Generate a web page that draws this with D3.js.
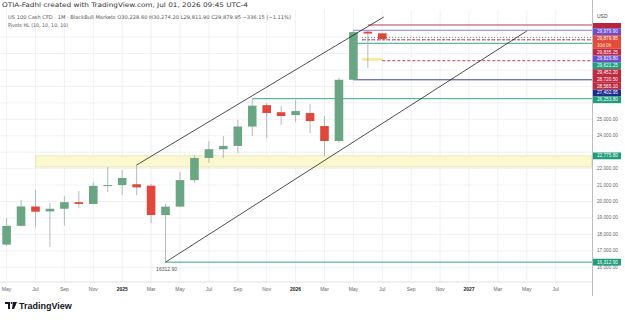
<!DOCTYPE html>
<html>
<head>
<meta charset="utf-8">
<script src="https://cdn.jsdelivr.net/npm/d3@7"></script>
<style>
  body { margin: 0; background: #fff; }
  svg { display: block; font-family: "Liberation Sans", Arial, sans-serif; }
  .legend { font-family: "DejaVu Sans", sans-serif; }
</style>
</head>
<body>
<div id="container"></div>
<script>
/* CONSTANTS AND GLOBALS */
const width = 625, height = 320
const plot = { left: 0, right: 592, top: 10, bottom: 282 }

/* DATA - monthly bars, May 2024 .. Jul 2026 */
const months = ["2024-05","2024-06","2024-07","2024-08","2024-09","2024-10","2024-11","2024-12",
  "2025-01","2025-02","2025-03","2025-04","2025-05","2025-06","2025-07","2025-08","2025-09","2025-10","2025-11","2025-12",
  "2026-01","2026-02","2026-03","2026-04","2026-05","2026-06","2026-07"]
const opens  = [17380, 18520, 19700, 19400, 19560, 19960, 19850, 20950, 21000, 21050, 20960, 19180, 19690, 21300, 22650, 23180, 23380, 24560, 25860, 25430, 25260, 25380, 24590, 23680, 27402.95, 30330, 30228.60]
const highs  = [18990, 20090, 20710, 19910, 20330, 20640, 21180, 22100, 21910, 22222, 21060, 19850, 21790, 22830, 23670, 23980, 24950, 26253.80, 25990, 25810, 26170, 25930, 25200, 27510, 30414, 30420, 30274.20]
const lows   = [17290, 18470, 18430, 17240, 18540, 19600, 19910, 20580, 20400, 20390, 18690, 16312.90, 19660, 21150, 22340, 22650, 22950, 23980, 23860, 24650, 24830, 24160, 22770, 23560, 27390, 28120, 29811.90]
const closes = [18520, 19700, 19380, 19560, 19960, 19850, 20950, 21000, 21430, 20860, 19180, 19690, 21300, 22650, 23180, 23380, 24560, 25830, 25380, 25200, 25500, 24890, 23680, 27402.95, 30300, 30216.10, 29879.95]

const tickIdx = [0, 2, 4, 6, 8, 10, 12, 14, 16, 18, 20, 22, 24, 26, 28, 30, 32, 34, 36, 38]
const tickLabels = ["May","Jul","Sep","Nov","2025","Mar","May","Jul","Sep","Nov","2026","Mar","May","Jul","Sep","Nov","2027","Mar","May","Jul"]
const priceTicks = d3.range(16000, 31000, 1000)

// horizontal levels drawn on the chart: price, start bar, colour, dash
const levelPrices = [30736.25, 30414.00, 29979.90, 29835.25, 29829.80, 29621.25, 28565.10, 27402.95, 26253.80, 16312.90]
const levelStart  = [25, 24, 24.6, 24.6, 24.6, 24, 26, 24, 17, 11]
const levelColors = ["#b8263d", "#7c6fd8", "#6b6f7a", "#c2283f", "#6b6f7a", "#1f9d7c", "#c2283f", "#1f2c8f", "#1f9d7c", "#1f9d7c"]
const levelDash   = [null, null, "1,2", "3,2", "1,2", null, "3,2", null, null, null]

// price scale labels
const axisPrices = [30736.25, 29979.90, 29879.95, 29835.25, 29829.80, 29621.25, 29452.20, 28720.50, 28565.10, 27402.95, 26253.80, 22775.80, 16312.90]
const axisColors = ["#b8263d", "#6a4bd6", "#e24c3a", "#c2283f", "#6a4bd6", "#1f9d7c", "#c2283f", "#c2283f", "#c2283f", "#1f2c8f", "#1f9d7c", "#1f9d7c", "#1f9d7c"]

// zones
const zoneTop = [22775.80, 28720.50]
const zoneBottom = [22098, 28565.10]
const zoneFrom = [2, 24.6]
const zoneTo = [40.5, 26]

// trend channel
const channel = [
  [[9, 22222], [26.1, 31220]],
  [[11, 16312.90], [36, 30370]]
]

const svg = d3.select("#container")
  .append("svg")
  .attr("width", width)
  .attr("height", height)

const x = d3.scaleLinear().domain([0, 40]).range([6.6, 6.6 + 40 * 14.45])
const y = d3.scaleLinear().domain([16000, 25000]).range([267.3, 119.3])

const bars = months.map((m, i) => ({ i, o: opens[i], h: highs[i], l: lows[i], c: closes[i] }))

// grid
svg.append("g")
  .selectAll("line")
  .data(tickIdx)
  .join("line")
  .attr("x1", d => x(d)).attr("x2", d => x(d))
  .attr("y1", plot.top).attr("y2", plot.bottom)
  .attr("stroke", "#eceef3").attr("stroke-width", 0.8)

svg.append("g")
  .selectAll("line")
  .data(priceTicks)
  .join("line")
  .attr("x1", plot.left).attr("x2", plot.right)
  .attr("y1", d => y(d)).attr("y2", d => y(d))
  .attr("stroke", "#eceef3").attr("stroke-width", 0.8)

// zones
svg.append("g")
  .selectAll("rect")
  .data(zoneTop)
  .join("rect")
  .attr("x", (d, i) => x(zoneFrom[i]))
  .attr("width", (d, i) => Math.min(x(zoneTo[i]), plot.right) - x(zoneFrom[i]))
  .attr("y", d => y(d))
  .attr("height", (d, i) => y(zoneBottom[i]) - y(d))
  .attr("fill", (d, i) => i === 0 ? "#fbf7cf" : "#f6e98f")
  .attr("stroke", (d, i) => i === 0 ? "#d7dc9a" : "none")
  .attr("stroke-width", 0.6)

// levels
svg.append("g")
  .selectAll("line")
  .data(levelPrices)
  .join("line")
  .attr("x1", (d, i) => x(levelStart[i])).attr("x2", plot.right)
  .attr("y1", d => y(d)).attr("y2", d => y(d))
  .attr("stroke", (d, i) => levelColors[i])
  .attr("stroke-width", 0.9)
  .attr("stroke-dasharray", (d, i) => levelDash[i])

// candles
const candle = svg.append("g")
  .selectAll("g")
  .data(bars)
  .join("g")

candle.append("line")
  .attr("x1", d => x(d.i)).attr("x2", d => x(d.i))
  .attr("y1", d => y(d.h)).attr("y2", d => y(d.l))
  .attr("stroke", "#a5a8af").attr("stroke-width", 0.8)

candle.append("rect")
  .attr("x", d => x(d.i) - 4.3)
  .attr("width", 8.6)
  .attr("y", d => y(Math.max(d.o, d.c)))
  .attr("height", d => Math.max(1, Math.abs(y(d.o) - y(d.c))))
  .attr("fill", d => d.c >= d.o ? "#6aa683" : "#e0483b")

// channel lines
svg.append("g")
  .selectAll("line")
  .data(channel)
  .join("line")
  .attr("x1", d => x(d[0][0])).attr("y1", d => y(d[0][1]))
  .attr("x2", d => x(d[1][0])).attr("y2", d => y(d[1][1]))
  .attr("stroke", "#222").attr("stroke-width", 0.8)

// pivot low text
svg.append("text")
  .attr("x", x(11) + 1).attr("y", y(16312.90) + 9)
  .attr("text-anchor", "middle")
  .attr("font-size", 5).attr("fill", "#555")
  .text(d3.format(".2f")(16312.90))

// time axis
svg.append("line")
  .attr("x1", 0).attr("x2", plot.right)
  .attr("y1", plot.bottom).attr("y2", plot.bottom)
  .attr("stroke", "#d6d8de").attr("stroke-width", 0.8)

svg.append("g")
  .selectAll("text")
  .data(tickIdx)
  .join("text")
  .attr("x", d => x(d)).attr("y", 290.5)
  .attr("text-anchor", "middle")
  .attr("font-size", 5)
  .attr("font-weight", (d, i) => /^\d/.test(tickLabels[i]) ? "bold" : "normal")
  .attr("fill", (d, i) => /^\d/.test(tickLabels[i]) ? "#222" : "#666")
  .text((d, i) => tickLabels[i])

// price axis
svg.append("line")
  .attr("x1", plot.right + 0.5).attr("x2", plot.right + 0.5)
  .attr("y1", 0).attr("y2", 296)
  .attr("stroke", "#a9acb3").attr("stroke-width", 0.8)

// stacked price labels
const fmt = d3.format(",.2f")
const lh = 6.8
const labels = axisPrices.map((p, i) => ({ p, color: axisColors[i], ideal: y(p), slots: i === 2 ? 2 : 1, sub: i === 2 ? "10d 0h" : null }))
  .sort((a, b) => b.p - a.p)
const groups = []
let cur = null
labels.forEach(l => {
  if (cur && l.ideal - cur.last < 20) cur.items.push(l)
  else { cur = { items: [l] }; groups.push(cur) }
  cur.last = l.ideal
})
groups.forEach(g => {
  let t = g.items[0].ideal - lh / 2
  g.items.forEach(l => { l.top = t; t += lh * l.slots })
})

// tick labels that a price label covers are not drawn
const covered = v => labels.some(l => y(v) > l.top - 1 && y(v) < l.top + lh * l.slots + 1)
svg.append("g")
  .selectAll("text")
  .data(priceTicks.filter(v => !covered(v) && y(v) > 24))
  .join("text")
  .attr("x", 597).attr("y", d => y(d))
  .attr("dominant-baseline", "central")
  .attr("font-size", 4.7).attr("fill", "#666")
  .text(d => fmt(d))

const lab = svg.append("g")
  .selectAll("g")
  .data(labels)
  .join("g")

lab.append("rect")
  .attr("x", 593).attr("width", 28)
  .attr("y", d => d.top).attr("height", d => lh * d.slots)
  .attr("fill", d => d.color)

lab.filter(d => d.top > 22).append("text")
  .attr("x", 597).attr("y", d => d.top + lh / 2)
  .attr("dominant-baseline", "central")
  .attr("font-size", 4.7).attr("fill", "#fff")
  .text(d => fmt(d.p))

lab.filter(d => d.sub).append("text")
  .attr("x", 597).attr("y", d => d.top + lh * 1.5)
  .attr("dominant-baseline", "central")
  .attr("font-size", 4.7).attr("fill", "#fbe3df")
  .text(d => d.sub)

// axis header
svg.append("rect").attr("x", 593).attr("y", 0).attr("width", 32).attr("height", 23).attr("fill", "#fff")
svg.append("text").attr("x", 597).attr("y", 18).attr("font-size", 5).attr("fill", "#444").text("USD")

// legend text
svg.append("text").attr("class", "legend").attr("x", 2).attr("y", 7).attr("font-size", 6.3).attr("fill", "#333")
  .attr("textLength", 246).attr("lengthAdjust", "spacingAndGlyphs")
  .text("OTIA-Fadhl created with TradingView.com, Jul 01, 2026 09:45 UTC-4")
svg.append("text").attr("class", "legend").attr("x", 8).attr("y", 19).attr("font-size", 5.2).attr("fill", "#555")
  .attr("textLength", 283).attr("lengthAdjust", "spacingAndGlyphs")
  .text("US 100 Cash CFD · 1M · BlackBull Markets  O30,228.60  H30,274.20  L29,811.90  C29,879.95  −336.15 (−1.11%)")
svg.append("text").attr("class", "legend").attr("x", 8).attr("y", 27).attr("font-size", 5.2).attr("fill", "#555")
  .attr("textLength", 60).attr("lengthAdjust", "spacingAndGlyphs")
  .text("Pivots HL (10, 10, 10, 10)")

// TradingView logo
const logo = svg.append("g").attr("transform", "translate(5,302)").attr("fill", "#131722")
logo.append("path").attr("d", "M0,0 H5 V7 H3 V2 H0 Z")
logo.append("circle").attr("cx", 6.6).attr("cy", 1).attr("r", 1)
logo.append("path").attr("d", "M8,0 H12 L9,7 H7 Z")
svg.append("text").attr("x", 19).attr("y", 309).attr("font-size", 9).attr("font-weight", 600)
  .attr("fill", "#131722").text("TradingView")
</script>
</body>
</html>
